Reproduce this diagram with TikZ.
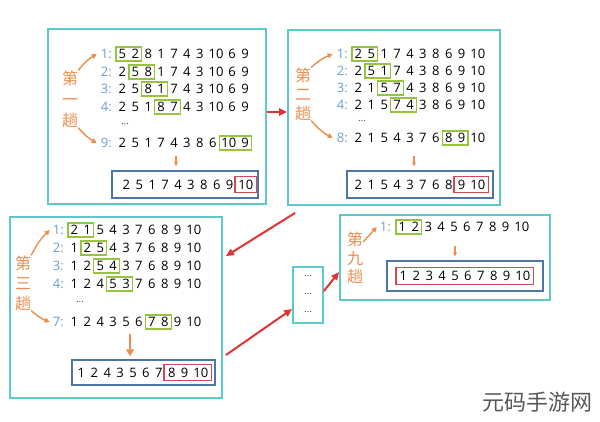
\documentclass[tikz,border=0pt]{standalone}
\usepackage{fontspec}
\setmainfont{Open Sans}
\newfontfamily\cjk{Noto Sans CJK SC}
\usetikzlibrary{positioning,fit,arrows.meta}

\definecolor{boxteal}{RGB}{92,200,204}
\definecolor{resblue}{RGB}{76,118,166}
\definecolor{hlgreen}{RGB}{150,196,60}
\definecolor{hlred}{RGB}{206,76,90}
\definecolor{tripor}{RGB}{236,142,78}
\definecolor{lblblue}{RGB}{104,160,208}
\definecolor{arrred}{RGB}{226,52,52}

% one row of numbers, named #1-1, #1-2, ...
\newcommand{\numrow}[4]{%
  \foreach \t [count=\i] in {#4} {%
    \def\tw{12.5pt}\ifnum\t>9 \def\tw{19pt}\fi
    \ifnum\i=1
      \node[num, minimum width=\tw, anchor=west] (#1-\i) at (#2,#3) {\t};
    \else
      \pgfmathtruncatemacro{\j}{\i-1}
      \node[num, minimum width=\tw, right=0pt of #1-\j] (#1-\i) {\t};
    \fi
  }%
}

\begin{document}
\begin{tikzpicture}[x=1pt,y=-1pt]
  \tikzstyle{num}=[inner xsep=0pt, inner ysep=2.2pt, text height=9.3pt, text depth=0pt, font=\fontsize{13}{15}\selectfont]
  \tikzstyle{lbl}=[inner sep=0pt, text=lblblue, font=\fontsize{13}{15}\selectfont]
  \tikzstyle{passbox}=[draw=boxteal, line width=1.8pt, inner sep=0pt]
  \tikzstyle{resbox}=[draw=resblue, line width=1.5pt, inner sep=0pt]
  \tikzstyle{grn}=[draw=hlgreen, line width=1.3pt, inner sep=0pt]
  \tikzstyle{hl}=[draw=hlred, line width=1.4pt, inner sep=1.2pt]
  \tikzstyle{dots}=[inner sep=0pt, text=black!70, font=\fontsize{10}{10}\selectfont]
  \tikzstyle{trip}=[inner sep=0pt, align=center, text=tripor, font=\cjk\fontsize{16}{#1}\selectfont]
  \tikzstyle{ornarrow}=[draw=tripor, line width=1.4pt, -{Triangle[length=5pt,width=5pt]}]
  \tikzstyle{downarr}=[draw=tripor, line width=1.2pt, -{Triangle[length=4pt,width=4pt]}]
  \tikzstyle{redarrow}=[draw=arrred, line width=2pt, -{Triangle[length=8pt,width=7pt]}]

  \path[use as bounding box, fill=white] (0,0) rectangle (600,421);

  % first pass
  \node[passbox, minimum width=218pt, minimum height=175pt] (pass1) at (157,116.5) {};
  \numrow{p1a}{116}{54}{5,2,8,1,7,4,3,10,6,9}
  \numrow{p1b}{116}{72}{2,5,8,1,7,4,3,10,6,9}
  \numrow{p1c}{116}{89}{2,5,8,1,7,4,3,10,6,9}
  \numrow{p1d}{116}{107}{2,5,1,8,7,4,3,10,6,9}
  \numrow{p1e}{116}{143}{2,5,1,7,4,3,8,6,10,9}
  \node[lbl, left=4pt of p1a-1] (p1a-l) {1:};
  \node[lbl, left=4pt of p1b-1] (p1b-l) {2:};
  \node[lbl, left=4pt of p1c-1] (p1c-l) {3:};
  \node[lbl, left=4pt of p1d-1] (p1d-l) {4:};
  \node[lbl, left=4pt of p1e-1] (p1e-l) {9:};
  \node[dots] (p1x) at (125,124) {...};
  \node[grn, fit=(p1a-1)(p1a-2)] {};
  \node[grn, fit=(p1b-2)(p1b-3)] {};
  \node[grn, fit=(p1c-3)(p1c-4)] {};
  \node[grn, fit=(p1d-4)(p1d-5)] {};
  \node[grn, fit=(p1e-9)(p1e-10)] {};
  \node[resbox, minimum width=146pt, minimum height=27pt] (res1) at (185,184.5) {};
  \numrow{r1}{120}{184.5}{2,5,1,7,4,3,8,6,9,10}
  \node[hl, fit=(r1-10)] {};
  \draw[downarr] ([xshift=-9pt,yshift=14pt]res1.north) -- ([xshift=-9pt,yshift=4pt]res1.north);
  \node[trip=21] (t1) at (70,99) {第\\一\\趟};
  \draw[ornarrow] (t1.north east) to[bend left=10] ([xshift=-4pt]p1a-l.west);
  \draw[ornarrow] (t1.south east) to[bend right=10] ([xshift=-4pt]p1e-l.west);

  % second pass
  \node[passbox, minimum width=212pt, minimum height=175pt] (pass2) at (394,117.5) {};
  \numrow{p2a}{352}{54}{2,5,1,7,4,3,8,6,9,10}
  \numrow{p2b}{352}{71}{2,5,1,7,4,3,8,6,9,10}
  \numrow{p2c}{352}{88}{2,1,5,7,4,3,8,6,9,10}
  \numrow{p2d}{352}{105}{2,1,5,7,4,3,8,6,9,10}
  \numrow{p2e}{352}{138}{2,1,5,4,3,7,6,8,9,10}
  \node[lbl, left=4pt of p2a-1] (p2a-l) {1:};
  \node[lbl, left=4pt of p2b-1] (p2b-l) {2:};
  \node[lbl, left=4pt of p2c-1] (p2c-l) {3:};
  \node[lbl, left=4pt of p2d-1] (p2d-l) {4:};
  \node[lbl, left=4pt of p2e-1] (p2e-l) {8:};
  \node[dots] (p2x) at (362,121) {...};
  \node[grn, fit=(p2a-1)(p2a-2)] {};
  \node[grn, fit=(p2b-2)(p2b-3)] {};
  \node[grn, fit=(p2c-3)(p2c-4)] {};
  \node[grn, fit=(p2d-4)(p2d-5)] {};
  \node[grn, fit=(p2e-8)(p2e-9)] {};
  \node[resbox, minimum width=146pt, minimum height=27pt] (res2) at (420,184.5) {};
  \numrow{r2}{352}{184.5}{2,1,5,4,3,7,6,8,9,10}
  \node[hl, fit=(r2-9)(r2-10)] {};
  \draw[downarr] ([xshift=-6pt,yshift=14pt]res2.north) -- ([xshift=-6pt,yshift=4pt]res2.north);
  \node[trip=19] (t2) at (303,94) {第\\二\\趟};
  \draw[ornarrow] (t2.north east) to[bend left=10] ([xshift=-4pt]p2a-l.west);
  \draw[ornarrow] (t2.south east) to[bend right=10] ([xshift=-4pt]p2e-l.west);

  % third pass
  \node[passbox, minimum width=212pt, minimum height=181pt] (pass3) at (116,307.5) {};
  \numrow{p3a}{68}{230}{2,1,5,4,3,7,6,8,9,10}
  \numrow{p3b}{68}{248}{1,2,5,4,3,7,6,8,9,10}
  \numrow{p3c}{68}{266}{1,2,5,4,3,7,6,8,9,10}
  \numrow{p3d}{68}{284}{1,2,4,5,3,7,6,8,9,10}
  \numrow{p3e}{68}{322}{1,2,4,3,5,6,7,8,9,10}
  \node[lbl, left=4pt of p3a-1] (p3a-l) {1:};
  \node[lbl, left=4pt of p3b-1] (p3b-l) {2:};
  \node[lbl, left=4pt of p3c-1] (p3c-l) {3:};
  \node[lbl, left=4pt of p3d-1] (p3d-l) {4:};
  \node[lbl, left=4pt of p3e-1] (p3e-l) {7:};
  \node[dots] (p3x) at (80,302) {...};
  \node[grn, fit=(p3a-1)(p3a-2)] {};
  \node[grn, fit=(p3b-2)(p3b-3)] {};
  \node[grn, fit=(p3c-3)(p3c-4)] {};
  \node[grn, fit=(p3d-4)(p3d-5)] {};
  \node[grn, fit=(p3e-7)(p3e-8)] {};
  \node[resbox, minimum width=143pt, minimum height=25pt] (res3) at (143.5,372.5) {};
  \numrow{r3}{75}{372.5}{1,2,4,3,5,6,7,8,9,10}
  \node[hl, fit=(r3-8)(r3-10)] {};
  \draw[tripor, line width=2.2pt, -{Triangle[length=7pt,width=8pt]}]
    ([xshift=-13.5pt,yshift=25pt]res3.north) -- ([xshift=-13.5pt,yshift=3pt]res3.north);
  \node[trip=20] (t3) at (23,283) {第\\三\\趟};
  \draw[ornarrow] (t3.north east) to[bend left=10] ([xshift=-3pt]p3a-l.west);
  \draw[ornarrow] (t3.south east) to[bend right=10] ([xshift=-3pt]p3e-l.west);

  % the passes in between
  \node[passbox, minimum width=30pt, minimum height=56pt] (dotsbox) at (308,295) {};
  \node[dots] (d1) at (308,276) {...};
  \node[dots] (d2) at (308,294) {...};
  \node[dots] (d3) at (308,312) {...};

  % ninth pass
  \node[passbox, minimum width=210pt, minimum height=85pt] (pass9) at (445,257.5) {};
  \numrow{p9a}{396}{227}{1,2,3,4,5,6,7,8,9,10}
  \node[lbl, left=5pt of p9a-1] (p9a-l) {1:};
  \node[grn, fit=(p9a-1)(p9a-2)] {};
  \node[resbox, minimum width=156pt, minimum height=30pt] (res9) at (465,276) {};
  \numrow{r9}{397}{276}{1,2,3,4,5,6,7,8,9,10}
  \node[hl, fit=(r9-1)(r9-10)] {};
  \draw[downarr] ([xshift=-10pt,yshift=14pt]res9.north) -- ([xshift=-10pt,yshift=4pt]res9.north);
  \node[trip=18.5] (t9) at (355,258) {第\\九\\趟};
  \draw[ornarrow] ([yshift=-10pt]t9.north east) -- ([xshift=-3pt]p9a-l.west);

  % red arrows from pass to pass
  \draw[redarrow] ([yshift=4.5pt]pass1.east) -- ([yshift=5.5pt]pass2.west);
  \draw[redarrow] ([xshift=8pt,yshift=-7pt]pass2.south west) -- ([xshift=3pt,yshift=-40pt]pass3.north east);
  \draw[redarrow] ([xshift=3pt,yshift=-47.5pt]pass3.east) -- ([yshift=-14pt]dotsbox.west);
  \draw[redarrow] ([yshift=4pt]dotsbox.east) -- ([yshift=-14.5pt]pass9.west);

  \node[inner sep=0pt, text=black!65, font=\cjk\fontsize{22}{22}\selectfont] (mark) at (537,402) {元码手游网};
\end{tikzpicture}
\end{document}
